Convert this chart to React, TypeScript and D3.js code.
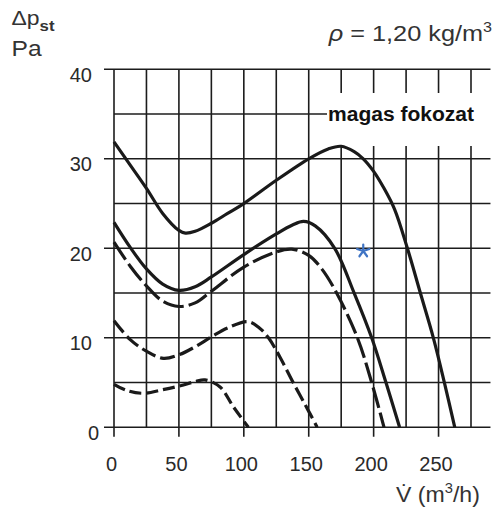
import React from 'react';
import * as d3 from 'd3';

const W = 493;
const H = 510;
const FONT = '"Liberation Sans", Arial, Helvetica, sans-serif';
const INK = '#1c1c1c';

// axis ticks
const volumeTicks = [0, 50, 100, 150, 200, 250];
const pressureTicks = [0, 10, 20, 30, 40];
const volumeGrid = [0, 25, 50, 75, 100, 125, 150, 175, 200, 225, 250, 275];
const pressureGrid = [0, 5, 10, 15, 20, 25, 30, 35, 40];

// curves: [V (m3/h), dp (Pa)]
const magasFokozat = [
  [0, 31.9], [12.5, 29.3], [25, 26.7], [37.5, 23.9], [50, 22], [55, 21.7], [62.5, 21.9],
  [75, 22.8], [87.5, 23.9], [100, 25], [125, 27.6], [150, 30], [165, 31.1], [175, 31.4],
  [185, 30.8], [192, 30], [200, 28.6], [208, 26.7], [216, 24.4], [226, 20], [236, 15],
  [246, 10], [254.5, 5], [262.5, 0],
];
const kozepesSolid = [
  [0, 22.9], [12.5, 20.1], [25, 17.7], [37.5, 16], [50, 15.3], [62.5, 15.7], [75, 16.8],
  [100, 19.3], [125, 21.6], [137.5, 22.6], [146, 23], [155, 22.5], [170, 20],
  [185, 15], [198.5, 10], [209.5, 5], [220, 0],
];
const kozepesDashed = [
  [0, 20.7], [12.5, 18], [25, 15.8], [37.5, 14.1], [50, 13.5], [62.5, 13.9], [75, 15.2],
  [100, 17.9], [125, 19.6], [137, 19.9], [150, 19.2], [160, 17.7], [171.5, 15],
  [187.5, 10], [198.5, 5], [208, 0],
];
const alacsonyDashed = [
  [0, 11.9], [12.5, 9.8], [25, 8.5], [38, 7.7], [50, 8.1], [62.5, 9], [75, 10.1],
  [87.5, 11.1], [103.5, 11.8], [112, 11.1], [119, 10], [128, 7.8], [138, 5],
  [147, 2.6], [156.5, 0],
];
const minimumDashed = [
  [0, 4.8], [10, 4.1], [22.6, 3.8], [37.5, 4.2], [50, 4.6], [62.5, 5.1], [70, 5.3],
  [81.7, 4.5], [91.9, 2.3], [103.5, 0],
];

const curves = [
  { name: 'magas', data: magasFokozat, dash: undefined },
  { name: 'kozepes', data: kozepesSolid, dash: undefined },
  { name: 'kozepes-d', data: kozepesDashed, dash: '21 5' },
  { name: 'alacsony', data: alacsonyDashed, dash: '15 5' },
  { name: 'minimum', data: minimumDashed, dash: '12 5' },
];

const marker = [192, 19.7];

export default function App() {
  const x = d3.scaleLinear().domain([0, 275]).range([114, 471]);
  const y = d3.scaleLinear().domain([0, 40]).range([427.3, 69.3]);
  const xEnd = x(290);

  const line = d3
    .line<number[]>()
    .x((d) => x(d[0]))
    .y((d) => y(d[1]))
    .curve(d3.curveCatmullRom.alpha(0.5));

  // five-armed asterisk
  const [mx, my] = [x(marker[0]), y(marker[1])];
  const star = d3
    .range(5)
    .map((i) => {
      const a = -Math.PI / 2 + (i * 2 * Math.PI) / 5;
      return `M${mx},${my}L${mx + 6.5 * Math.cos(a)},${my + 6.5 * Math.sin(a)}`;
    })
    .join('');

  return (
    <svg
      width={W}
      height={H}
      style={{ position: 'absolute', left: 0, top: 0, background: '#fff' }}
      fontFamily={FONT}
    >
      {/* grid */}
      <g stroke={INK} strokeWidth={1.6}>
        {volumeGrid.map((v) => (
          <line
            key={'v' + v}
            x1={x(v)}
            x2={x(v)}
            y1={y(40)}
            y2={volumeTicks.includes(v) ? y(0) + 9.5 : y(0)}
          />
        ))}
        {pressureGrid.map((p) => (
          <line
            key={'p' + p}
            x1={pressureTicks.includes(p) ? x(0) - 10 : x(0)}
            x2={xEnd}
            y1={y(p)}
            y2={y(p)}
          />
        ))}
      </g>

      {/* label box */}
      <rect x={327} y={93} width={xEnd - 327 + 2} height={53} fill="#fff" />
      <text
        x={328}
        y={121}
        fontSize={19.5}
        fontWeight="bold"
        fill="#111"
        textLength={146}
        lengthAdjust="spacingAndGlyphs"
      >
        magas fokozat
      </text>

      {/* curves */}
      <g fill="none" stroke="#1a1a1a" strokeWidth={3.2} strokeLinecap="butt">
        {curves.map((c) => (
          <path key={c.name} d={line(c.data) || ''} strokeDasharray={c.dash} />
        ))}
      </g>

      <path d={star} stroke="#3f74c4" strokeWidth={2.2} strokeLinecap="round" />

      {/* tick labels */}
      <g fontSize={20} fill="#2a2a2a">
        {volumeTicks.map((v) => (
          <text key={'xl' + v} x={x(v) - 2.5} y={471} textAnchor="middle">
            {v}
          </text>
        ))}
        {pressureTicks.map((p) => (
          <text key={'yl' + p} x={p === 0 ? 99 : 92} y={y(p) + 12.5} textAnchor="end">
            {p}
          </text>
        ))}
      </g>

      {/* axis titles */}
      <g fill="#333">
        <g transform="translate(11.5,25) scale(1.12,1)">
          <text fontSize={20.5}>
            Δp
            <tspan fontSize={15} fontWeight="bold" dy={6}>
              st
            </tspan>
          </text>
        </g>
        <g transform="translate(11.5,56) scale(1.12,1)">
          <text fontSize={22}>Pa</text>
        </g>
        <g transform="translate(492,41) scale(1.15,1)">
          <text fontSize={22} textAnchor="end">
            <tspan fontStyle="italic">ρ</tspan> = 1,20 kg/m
            <tspan fontSize={14} dy={-9}>
              3
            </tspan>
          </text>
        </g>
        <g transform="translate(396,502) scale(1.05,1)">
          <text fontSize={22}>
            V̇ (m
            <tspan fontSize={14} dy={-9}>
              3
            </tspan>
            <tspan dy={9}>/h)</tspan>
          </text>
        </g>
      </g>
    </svg>
  );
}
